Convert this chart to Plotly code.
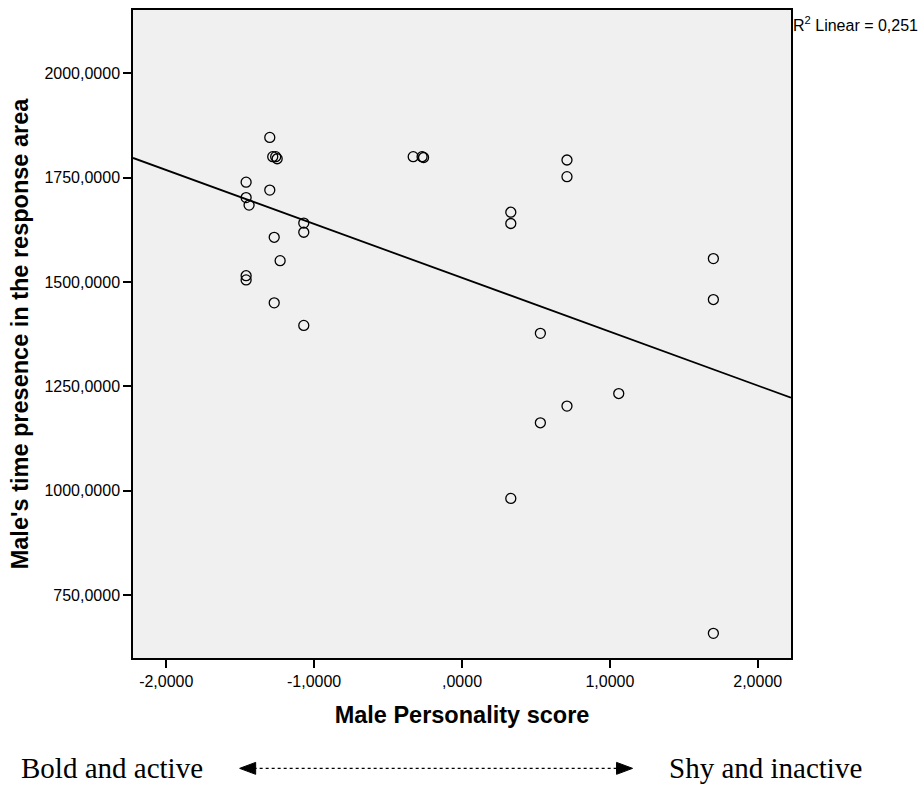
import numpy as np
import plotly.graph_objects as go

# Male personality score (PCA score) and time spent in the response area (s)
personality = [
    -1.30, -1.28, -1.26, -1.25, -1.46, -1.30, -1.46, -1.44, -1.07, -1.07,
    -1.27, -1.23, -1.46, -1.46, -1.27, -1.07, -0.33, -0.27, -0.26, 0.71,
    0.71, 0.33, 0.33, 1.70, 1.70, 0.53, 1.06, 0.71, 0.53, 0.33, 1.70,
]
presence = [
    1846, 1800, 1800, 1795, 1739, 1720, 1702, 1684, 1641, 1619,
    1607, 1551, 1515, 1505, 1450, 1396, 1800, 1800, 1798, 1792,
    1752, 1667, 1640, 1556, 1458, 1377, 1233, 1203, 1163, 982, 659,
]

x_ticks = [-2, -1, 0, 1, 2]
x_ticklabels = ["-2,0000", "-1,0000", ",0000", "1,0000", "2,0000"]
y_ticks = [750, 1000, 1250, 1500, 1750, 2000]
y_ticklabels = ["750,0000", "1000,0000", "1250,0000", "1500,0000", "1750,0000", "2000,0000"]
r2_label = "0,251"

x_range = [-2.225, 2.225]
y_range = [600, 2151]

# Least-squares linear fit across the full axis width
slope, intercept = np.polyfit(personality, presence, 1)
fit_x = np.array(x_range)
fit_y = intercept + slope * fit_x

fig = go.Figure()
fig.add_trace(go.Scatter(
    x=fit_x, y=fit_y, mode="lines",
    line=dict(color="black", width=1.8),
    hoverinfo="skip", showlegend=False,
))
fig.add_trace(go.Scatter(
    x=personality, y=presence, mode="markers",
    marker=dict(symbol="circle-open", size=10, color="black",
                line=dict(color="black", width=1.3)),
    showlegend=False,
))

W, H = 922, 786
L, R, T, B = 133.3, 791.5, 8.3, 658.3


def px(xp):
    return (xp - L) / (R - L)


def py(yp):
    return (B - yp) / (B - T)


axis_font = dict(family="Liberation Sans, Arial, sans-serif", size=16, color="black")
title_font = dict(family="Liberation Sans, Arial, sans-serif", size=23.5, color="black")

fig.update_xaxes(
    range=x_range, tickvals=x_ticks, ticktext=x_ticklabels,
    showgrid=False, zeroline=False,
    showline=True, linecolor="black", linewidth=1.5, mirror=True,
    ticks="outside", ticklen=8, tickwidth=1.5, tickcolor="black",
    tickfont=axis_font,
    title=dict(text="<b>Male Personality score</b>", font=title_font, standoff=18),
)
fig.update_yaxes(
    range=y_range, tickvals=y_ticks, ticktext=y_ticklabels,
    showgrid=False, zeroline=False,
    showline=True, linecolor="black", linewidth=1.5, mirror=True,
    ticks="outside", ticklen=8, tickwidth=1.5, tickcolor="black",
    tickfont=axis_font,
    title=dict(text="<b>Male's time presence in the response area</b>",
               font=title_font, standoff=9),
)

serif = dict(family="Liberation Serif, Times New Roman, serif", size=29, color="black")

annotations = [
    dict(text="R<sup>2</sup> Linear = " + r2_label, xref="paper", yref="paper",
         x=px(792), y=py(22), xanchor="left", yanchor="middle", showarrow=False,
         font=dict(family="Liberation Sans, Arial, sans-serif", size=16, color="black")),
    dict(text="Bold and active", xref="paper", yref="paper",
         x=px(19), y=py(769), xanchor="left", yanchor="middle", showarrow=False, font=serif),
    dict(text="Shy and inactive", xref="paper", yref="paper",
         x=px(667), y=py(769), xanchor="left", yanchor="middle", showarrow=False, font=serif),
]

# Double-headed dotted arrow between the two behavioural extremes
ay = 769
shapes = [
    dict(type="line", xref="paper", yref="paper",
         x0=px(254), x1=px(620), y0=py(ay), y1=py(ay),
         line=dict(color="black", width=1.3, dash="dot")),
    dict(type="path", xref="paper", yref="paper",
         path=f"M {px(240)},{py(ay)} L {px(256)},{py(ay - 6)} L {px(256)},{py(ay + 6)} Z",
         fillcolor="black", line=dict(color="black", width=1)),
    dict(type="path", xref="paper", yref="paper",
         path=f"M {px(633)},{py(ay)} L {px(617)},{py(ay - 6)} L {px(617)},{py(ay + 6)} Z",
         fillcolor="black", line=dict(color="black", width=1)),
]

fig.update_layout(
    width=W, height=H,
    margin=dict(l=L, r=W - R, t=T, b=H - B, pad=0),
    plot_bgcolor="#f0f0f0", paper_bgcolor="white",
    annotations=annotations, shapes=shapes,
)

fig.write_html("out.html")
